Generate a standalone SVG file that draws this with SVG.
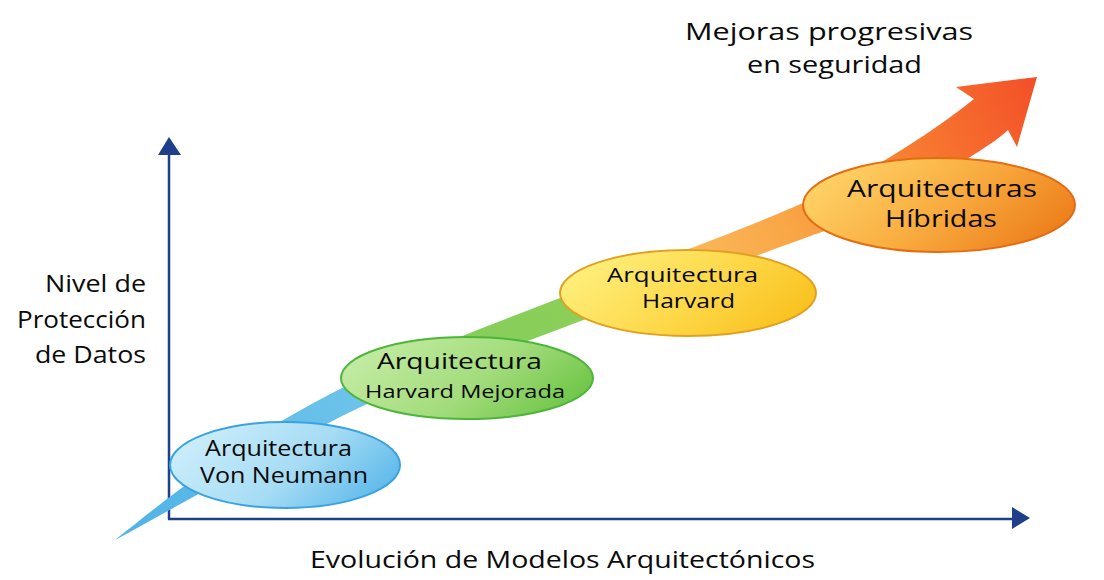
<svg xmlns="http://www.w3.org/2000/svg" width="1104" height="580" viewBox="0 0 1104 580">
  <defs>
    <linearGradient id="band" gradientUnits="userSpaceOnUse" x1="115" y1="540" x2="1037" y2="77">
      <stop offset="0" stop-color="#4fb2e6"/>
      <stop offset="0.27" stop-color="#6cc3ea"/>
      <stop offset="0.34" stop-color="#82cd5e"/>
      <stop offset="0.5" stop-color="#8ccf58"/>
      <stop offset="0.58" stop-color="#fcc062"/>
      <stop offset="0.72" stop-color="#f9a646"/>
      <stop offset="0.86" stop-color="#f77b30"/>
      <stop offset="1" stop-color="#f34f28"/>
    </linearGradient>
    <linearGradient id="gBlue" x1="0" y1="0.3" x2="1" y2="0.7">
      <stop offset="0" stop-color="#cdeefb"/>
      <stop offset="0.55" stop-color="#a6dcf4"/>
      <stop offset="1" stop-color="#5ab8ea"/>
    </linearGradient>
    <linearGradient id="gGreen" x1="0" y1="0.3" x2="1" y2="0.7">
      <stop offset="0" stop-color="#c4eca4"/>
      <stop offset="0.55" stop-color="#a3dc7c"/>
      <stop offset="1" stop-color="#6cc444"/>
    </linearGradient>
    <linearGradient id="gYellow" x1="0" y1="0.3" x2="1" y2="0.7">
      <stop offset="0" stop-color="#fff07e"/>
      <stop offset="0.55" stop-color="#fdd848"/>
      <stop offset="1" stop-color="#f9c01c"/>
    </linearGradient>
    <linearGradient id="gOrange" x1="0" y1="0.3" x2="1" y2="0.7">
      <stop offset="0" stop-color="#ffd468"/>
      <stop offset="0.5" stop-color="#f9ad40"/>
      <stop offset="1" stop-color="#ec7c1a"/>
    </linearGradient>
    <style>
      .axis { stroke: #1f3f8a; stroke-width: 2.5; fill: none; }
      .axhead { fill: #1f3f8a; }
      .t { font-family: "Open Sans", "Noto Sans", "Liberation Sans", sans-serif; fill: #0a0a0a; }
      .node { stroke-width: 2; }
    </style>
  </defs>
  <rect width="1104" height="580" fill="#ffffff"/>

  <g id="axes">
    <line class="axis" x1="169" y1="519" x2="169" y2="152"/>
    <polygon class="axhead" points="169,137 158,155 181,155"/>
    <line class="axis" x1="168" y1="519" x2="1013" y2="519"/>
    <polygon class="axhead" points="1030,518 1012,507 1012,529"/>
  </g>

  <g id="connectors">
    <path fill="url(#band)" d="M115,540 C175,492 240,440 342,388 C440,338 700,249 803,203 C860,178 928,136 974,99 L956,87 L1037,77 L1017,147 L1008,130 C990,148 910,195 827,230 C750,258 480,357 365,405 C320,425 180,505 115,540 Z"/>
  </g>

  <g id="node-von-neumann">
    <ellipse class="node" cx="285" cy="465" rx="115" ry="43" fill="url(#gBlue)" stroke="#3aa2e0"/>
    <text class="t" x="278.5" y="456" font-size="21" text-anchor="middle" textLength="147" lengthAdjust="spacingAndGlyphs">Arquitectura</text>
    <text class="t" x="284" y="483" font-size="21" text-anchor="middle" textLength="168" lengthAdjust="spacingAndGlyphs">Von Neumann</text>
  </g>

  <g id="node-harvard-mejorada">
    <ellipse class="node" cx="467" cy="378" rx="126" ry="41" fill="url(#gGreen)" stroke="#4cb53a"/>
    <text class="t" x="459.5" y="369" font-size="22" text-anchor="middle" textLength="165" lengthAdjust="spacingAndGlyphs">Arquitectura</text>
    <text class="t" x="465" y="398" font-size="19" text-anchor="middle" textLength="200" lengthAdjust="spacingAndGlyphs">Harvard Mejorada</text>
  </g>

  <g id="node-harvard">
    <ellipse class="node" cx="688" cy="293" rx="128" ry="43" fill="url(#gYellow)" stroke="#e2a021"/>
    <text class="t" x="682.5" y="282" font-size="20" text-anchor="middle" textLength="151" lengthAdjust="spacingAndGlyphs">Arquitectura</text>
    <text class="t" x="688.5" y="308" font-size="20" text-anchor="middle" textLength="93" lengthAdjust="spacingAndGlyphs">Harvard</text>
  </g>

  <g id="node-hibridas">
    <ellipse class="node" cx="939" cy="205" rx="136" ry="47" fill="url(#gOrange)" stroke="#e56c12"/>
    <text class="t" x="942" y="197" font-size="24" text-anchor="middle" textLength="190" lengthAdjust="spacingAndGlyphs">Arquitecturas</text>
    <text class="t" x="941" y="227" font-size="24" text-anchor="middle" textLength="112" lengthAdjust="spacingAndGlyphs">Híbridas</text>
  </g>

  <g id="labels">
    <text class="t" x="146" y="292" font-size="23" text-anchor="end" textLength="101" lengthAdjust="spacingAndGlyphs">Nivel de</text>
    <text class="t" x="146" y="328" font-size="23" text-anchor="end" textLength="129" lengthAdjust="spacingAndGlyphs">Protección</text>
    <text class="t" x="146" y="363" font-size="23" text-anchor="end" textLength="111" lengthAdjust="spacingAndGlyphs">de Datos</text>
    <text class="t" x="829" y="40" font-size="23" text-anchor="middle" textLength="288" lengthAdjust="spacingAndGlyphs">Mejoras progresivas</text>
    <text class="t" x="834.5" y="73" font-size="23" text-anchor="middle" textLength="175" lengthAdjust="spacingAndGlyphs">en seguridad</text>
    <text class="t" x="562.5" y="568" font-size="24" text-anchor="middle" textLength="505" lengthAdjust="spacingAndGlyphs">Evolución de Modelos Arquitectónicos</text>
  </g>
</svg>
